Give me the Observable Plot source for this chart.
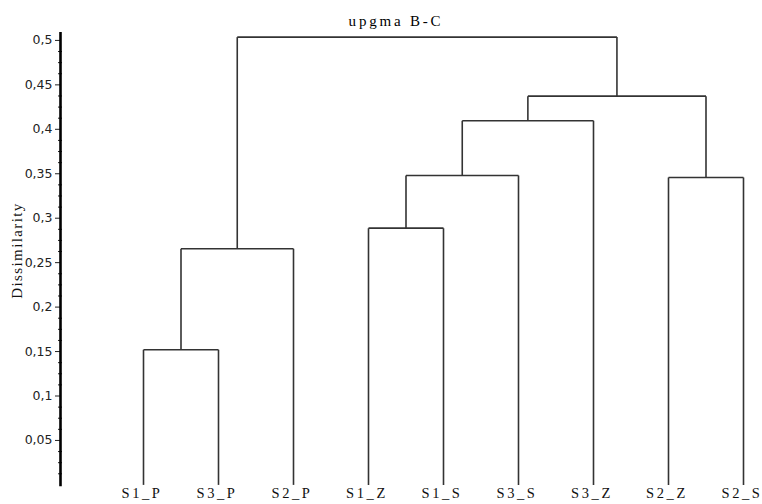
<!DOCTYPE html>
<html>
<head>
<meta charset="utf-8">
<script src="https://cdn.jsdelivr.net/npm/d3@7"></script>
<script src="https://cdn.jsdelivr.net/npm/@observablehq/plot@0.6"></script>
<style>
  html, body { margin: 0; padding: 0; background: #fff; }
  g[aria-label="x-axis tick label"] text { letter-spacing: 2.6px; }
  text[aria-label="title"] { letter-spacing: 2.8px; }
  text[aria-label="y label"] { letter-spacing: 1.4px; }
</style>
</head>
<body>
<div id="chart"></div>
<script>
// Leaves in dendrogram order
const leaves = ["S1_P", "S3_P", "S2_P", "S1_Z", "S1_S", "S3_S", "S3_Z", "S2_Z", "S2_S"];

// UPGMA merges (Bray-Curtis dissimilarity): cluster name, children, join height
const mergeNames  = ["C1", "C2", "C3", "C4", "C5", "C6", "C7", "C8"];
const mergeLeft   = ["S1_P", "C1", "S1_Z", "C3", "C4", "S2_Z", "C5", "C2"];
const mergeRight  = ["S3_P", "S2_P", "S1_S", "S3_S", "S3_Z", "S2_S", "C6", "C7"];
const mergeHeight = [0.152, 0.2656, 0.2888, 0.348, 0.4096, 0.3458, 0.4373, 0.5037];

// Y axis ticks
const majorTicks = [0.05, 0.1, 0.15, 0.2, 0.25, 0.3, 0.35, 0.4, 0.45, 0.5];
const minorTicks = d3.range(0, 41).map(i => i * 0.0125).filter(v => Math.abs(v * 20 - Math.round(v * 20)) > 1e-9);

// Node positions: leaves at their index, clusters at the midpoint of their children
const pos = new Map(leaves.map((name, i) => [name, {x: i, h: 0}]));
const segments = [];
mergeNames.forEach((name, i) => {
  const a = pos.get(mergeLeft[i]);
  const b = pos.get(mergeRight[i]);
  const h = mergeHeight[i];
  segments.push({x1: a.x, y1: a.h, x2: a.x, y2: h});
  segments.push({x1: b.x, y1: b.h, x2: b.x, y2: h});
  segments.push({x1: a.x, y1: h, x2: b.x, y2: h});
  pos.set(name, {x: (a.x + b.x) / 2, h});
});

const comma = d => String(d).replace(".", ",");

const chart = Plot.plot({
  width: 762,
  height: 504,
  marginLeft: 60,
  marginRight: 19,
  marginTop: 32.8,
  marginBottom: 19.6,
  style: {background: "#fff", color: "#000"},
  x: {domain: [0, leaves.length - 1], range: [143, 743]},
  y: {domain: [0, 0.508]},
  marks: [
    Plot.link(segments, {
      x1: "x1", y1: "y1", x2: "x2", y2: "y2",
      stroke: "#333", strokeWidth: 1.6, curve: "linear"
    }),
    Plot.axisX(d3.range(leaves.length), {
      tickSize: 0, tickPadding: 3, dx: -1.5,
      tickFormat: i => leaves[i],
      fontFamily: "Liberation Serif", fontSize: 14.5, fill: "#111",
      label: null
    }),
    Plot.axisY(majorTicks, {
      tickSize: 5, tickPadding: 3,
      tickFormat: comma,
      fontFamily: "DejaVu Sans", fontSize: 12.5, fill: "#222",
      stroke: "#222", label: null
    }),
    Plot.axisY(minorTicks, {
      tickSize: 4, dx: 2, tickFormat: () => "",
      stroke: "#222", label: null
    }),
    Plot.frame({anchor: "left", stroke: "#000", strokeWidth: 2.6}),
    Plot.text(["upgma B-C"], {
      frameAnchor: "top", lineAnchor: "middle", dy: -12, dx: -6,
      fontFamily: "Liberation Serif", fontSize: 15, fill: "#000",
      ariaLabel: () => "title"
    }),
    Plot.text(["Dissimilarity"], {
      frameAnchor: "left", textAnchor: "middle", lineAnchor: "middle",
      rotate: -90, dx: -43, dy: -8.6,
      fontFamily: "Liberation Serif", fontSize: 15, fill: "#111",
      ariaLabel: () => "y label"
    })
  ]
});

document.getElementById("chart").appendChild(chart);
</script>
</body>
</html>
